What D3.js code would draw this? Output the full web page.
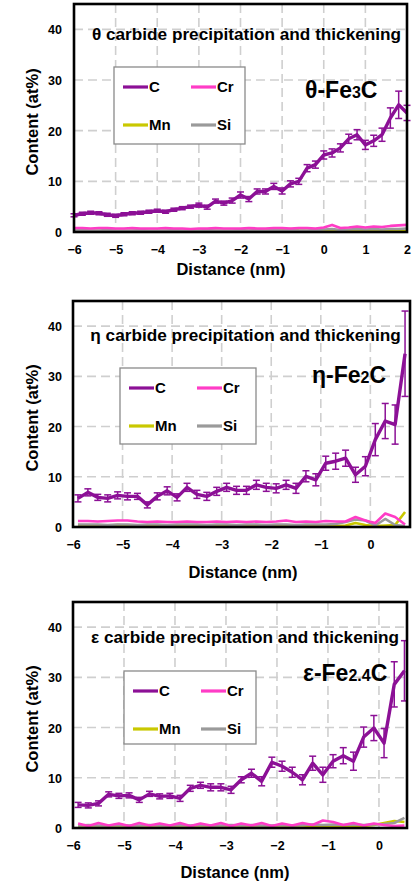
<!DOCTYPE html>
<html><head><meta charset="utf-8">
<script src="https://cdn.jsdelivr.net/npm/d3@7/dist/d3.min.js"></script>
<style>
body{margin:0;background:#fff}
svg{display:block}
text{font-family:"Liberation Sans",Arial,sans-serif;font-weight:bold;fill:#000}
</style>
</head><body>
<svg id="chart" width="418" height="883"></svg>
<script>
// ---------------- DATA ----------------
const seriesNames = ["C", "Cr", "Mn", "Si"];
const yTicks = [0, 10, 20, 30, 40];
const yMax = 45;
const titles = [
  "θ carbide precipitation and thickening",
  "η carbide precipitation and thickening",
  "ε carbide precipitation and thickening"
];
const phaseLabels = [["θ-Fe", "3", "C"], ["η-Fe", "2", "C"], ["ε-Fe", "2.4", "C"]];
const xTitle = "Distance (nm)";
const yTitle = "Content (at%)";
const xTicks1 = [-6, -5, -4, -3, -2, -1, 0, 1, 2];
const xTicks2 = [-6, -5, -4, -3, -2, -1, 0];
const xTicks3 = [-6, -5, -4, -3, -2, -1, 0];

// Panel 1 : θ-Fe3C
const dist1 = [-6.0,-5.8,-5.6,-5.4,-5.2,-5.0,-4.8,-4.6,-4.4,-4.2,-4.0,-3.8,-3.6,-3.4,-3.2,-3.0,-2.8,-2.6,-2.4,-2.2,-2.0,-1.8,-1.6,-1.4,-1.2,-1.0,-0.8,-0.6,-0.4,-0.2,0.0,0.2,0.4,0.6,0.8,1.0,1.2,1.4,1.6,1.8,2.0];
const C1    = [3.3,3.6,3.8,3.7,3.4,3.2,3.5,3.7,3.8,4.0,4.2,4.0,4.4,4.7,5.0,5.3,4.9,6.1,5.7,6.2,7.3,6.5,8.0,8.0,9.0,8.1,9.5,10.0,12.6,13.3,15.2,15.6,16.6,18.4,19.2,17.2,18.0,19.2,22.5,25.1,23.5];
const C1err = [0.3,0.3,0.3,0.3,0.3,0.3,0.3,0.3,0.3,0.3,0.3,0.3,0.3,0.3,0.3,0.4,0.4,0.4,0.4,0.5,0.6,0.5,0.5,0.5,0.6,0.6,0.6,0.6,0.7,0.7,0.8,0.8,0.8,0.9,1.0,0.9,1.1,1.3,2.0,2.7,1.5];
const Cr1   = [0.8,0.8,0.7,0.8,0.8,0.7,0.7,0.8,0.7,0.7,0.7,0.8,0.7,0.7,0.6,0.7,0.7,0.8,0.7,0.7,0.7,0.8,0.7,0.7,0.8,0.8,0.7,0.8,0.8,0.7,0.9,1.4,0.8,0.9,1.1,0.9,1.1,1.0,1.2,1.3,1.4];
const Mn1   = [0.2,0.2,0.2,0.2,0.2,0.2,0.2,0.2,0.2,0.2,0.2,0.2,0.2,0.2,0.2,0.2,0.2,0.2,0.2,0.2,0.2,0.2,0.3,0.3,0.3,0.5,0.6,0.3,0.2,0.2,0.2,0.3,0.2,0.2,0.3,0.2,0.3,0.2,0.2,0.3,0.2];
const Si1   = [0.4,0.4,0.3,0.3,0.4,0.3,0.3,0.3,0.4,0.3,0.3,0.3,0.4,0.3,0.3,0.3,0.4,0.3,0.3,0.3,0.4,0.3,0.4,0.3,0.4,0.3,0.4,0.3,0.3,0.4,0.5,0.6,0.4,0.5,0.6,0.5,0.6,0.5,0.6,0.6,0.7];

// Panel 2 : η-Fe2C
const dist2 = [-5.9,-5.7,-5.5,-5.3,-5.1,-4.9,-4.7,-4.5,-4.3,-4.1,-3.9,-3.7,-3.5,-3.3,-3.1,-2.9,-2.7,-2.5,-2.3,-2.1,-1.9,-1.7,-1.5,-1.3,-1.1,-0.9,-0.7,-0.5,-0.3,-0.1,0.1,0.3,0.5,0.7];
const C2    = [5.7,6.9,5.9,5.7,6.3,6.1,6.1,4.4,6.1,7.2,5.9,7.9,6.5,6.1,7.1,7.9,7.3,7.3,8.4,7.9,7.7,8.4,7.7,10.1,9.4,12.7,13.1,13.7,10.4,12.1,17.4,21.1,20.4,34.5];
const C2err = [0.7,0.7,0.6,0.7,0.7,0.7,0.6,0.6,0.7,0.8,0.7,0.8,0.8,0.8,0.8,0.8,0.8,0.8,0.9,0.8,0.9,0.9,1.0,1.1,1.2,1.4,1.6,1.6,1.5,1.9,3.2,3.5,3.9,8.5];
const Cr2   = [1.2,1.2,1.1,1.2,1.3,1.3,1.1,1.0,1.1,1.0,1.0,1.1,1.0,1.0,1.1,1.0,1.1,1.0,1.1,1.0,1.1,1.3,1.0,1.1,1.0,1.2,1.1,1.1,2.0,1.3,0.8,2.7,2.0,0.5];
const Mn2   = [0.2,0.2,0.2,0.3,0.4,0.3,0.2,0.2,0.2,0.2,0.2,0.2,0.2,0.2,0.2,0.2,0.2,0.2,0.2,0.2,0.3,0.2,0.2,0.2,0.2,0.2,0.2,0.3,0.8,0.4,0.2,0.3,0.4,3.0];
const Si2   = [0.5,0.5,0.5,0.4,0.5,0.5,0.4,0.5,0.5,0.4,0.5,0.5,0.5,0.4,0.5,0.5,0.4,0.5,0.5,0.4,0.5,0.5,0.4,0.5,0.5,0.5,0.6,1.0,1.5,1.3,0.3,1.6,0.4,0.2];

// Panel 3 : ε-Fe2.4C
const dist3 = [-5.9,-5.7,-5.5,-5.3,-5.1,-4.9,-4.7,-4.5,-4.3,-4.1,-3.9,-3.7,-3.5,-3.3,-3.1,-2.9,-2.7,-2.5,-2.3,-2.1,-1.9,-1.7,-1.5,-1.3,-1.1,-0.9,-0.7,-0.5,-0.3,-0.1,0.1,0.3,0.5];
const C3    = [4.6,4.5,4.9,6.7,6.4,6.5,5.6,6.8,6.3,6.4,5.9,7.9,8.5,8.1,8.1,7.6,9.6,10.9,9.3,13.1,12.3,11.1,9.6,12.9,10.6,13.3,14.4,13.3,18.1,19.9,16.9,28.6,31.3];
const C3err = [0.5,0.5,0.5,0.5,0.5,0.5,0.5,0.5,0.5,0.5,0.6,0.6,0.6,0.7,0.7,0.7,0.6,0.8,0.9,1.0,1.0,1.0,1.0,1.4,1.5,1.3,1.6,1.8,2.0,2.5,2.9,4.5,6.0];
const Cr3   = [0.9,0.4,1.0,0.5,0.9,0.4,1.0,0.5,0.9,0.5,1.0,0.4,0.9,0.5,1.0,0.4,0.9,0.5,1.0,0.4,0.9,0.5,1.0,0.6,1.5,1.2,0.6,1.0,0.5,0.9,0.6,0.4,0.5];
const Mn3   = [0.1,0.1,0.1,0.1,0.1,0.1,0.1,0.1,0.1,0.1,0.1,0.1,0.1,0.1,0.1,0.1,0.1,0.1,0.1,0.1,0.1,0.1,0.1,0.2,0.2,0.2,0.2,0.3,0.4,0.6,1.0,1.4,1.2];
const Si3   = [0.5,0.6,0.5,0.5,0.6,0.5,0.5,0.6,0.5,0.5,0.6,0.5,0.6,0.5,0.5,0.6,0.5,0.6,0.5,0.5,0.6,0.5,0.6,0.7,0.6,0.7,0.6,0.7,0.6,0.7,0.8,1.0,2.0];

// ---------------- STYLE / LAYOUT ----------------
const colors = { C: "#8c1096", Cr: "#ff3cc6", Mn: "#c9c800", Si: "#9a9a9a" };
const panels = [
  { left: 74, top: 4, right: 407, bottom: 232, xDomain: [-6, 2], xTicks: xTicks1,
    dist: dist1, C: C1, Cerr: C1err, Cr: Cr1, Mn: Mn1, Si: Si1,
    titleX: 246.5, titleY: 40, phaseX: 305, phaseY: 98, xTitleDy: 43, xTitleX: 231,
    legend: { x: 114, y: 67, w: 131, h: 77 } },
  { left: 73, top: 301, right: 410, bottom: 527, xDomain: [-6, 0.8], xTicks: xTicks2,
    dist: dist2, C: C2, Cerr: C2err, Cr: Cr2, Mn: Mn2, Si: Si2,
    titleX: 245.5, titleY: 341, phaseX: 312, phaseY: 383, xTitleDy: 51, xTitleX: 243,
    legend: { x: 120, y: 368, w: 136, h: 76 } },
  { left: 73, top: 602, right: 407, bottom: 828, xDomain: [-6, 0.55], xTicks: xTicks3,
    dist: dist3, C: C3, Cerr: C3err, Cr: Cr3, Mn: Mn3, Si: Si3,
    titleX: 245, titleY: 643, phaseX: 303, phaseY: 681, xTitleDy: 50, xTitleX: 235,
    legend: { x: 124, y: 671, w: 132, h: 73 } }
];

const svg = d3.select("#chart");

panels.forEach((p, pi) => {
  const g = svg.append("g");
  const x = d3.scaleLinear().domain(p.xDomain).range([p.left, p.right]);
  const y = d3.scaleLinear().domain([0, yMax]).range([p.bottom, p.top]);

  // grid
  g.append("g").selectAll("line").data(yTicks.filter(t => t > 0)).join("line")
    .attr("x1", p.left).attr("x2", p.right)
    .attr("y1", d => y(d)).attr("y2", d => y(d))
    .attr("stroke", "#cfcfcf").attr("stroke-width", 1.6).attr("stroke-dasharray", "9,5");
  g.append("g").selectAll("line").data(p.xTicks.filter(t => t > p.xDomain[0] && t < p.xDomain[1])).join("line")
    .attr("y1", p.top).attr("y2", p.bottom)
    .attr("x1", d => x(d)).attr("x2", d => x(d))
    .attr("stroke", "#cfcfcf").attr("stroke-width", 1.6).attr("stroke-dasharray", "9,5");

  // axes (labels only; ticks hidden)
  const xAxis = d3.axisBottom(x).tickValues(p.xTicks).tickSize(0).tickPadding(0).tickFormat(d3.format("d"));
  const gx = g.append("g").attr("transform", `translate(0,${p.bottom})`).call(xAxis);
  gx.select(".domain").remove();
  gx.selectAll("text").attr("font-size", 12.5).attr("dy", null).attr("y", 22)
    .style("font-family", '"Liberation Sans",Arial,sans-serif').style("font-weight", "bold").attr("fill", "#000");

  const yAxis = d3.axisLeft(y).tickValues(yTicks).tickSize(0).tickPadding(0).tickFormat(d3.format("d"));
  const gy = g.append("g").attr("transform", `translate(62,0)`).call(yAxis);
  gy.select(".domain").remove();
  gy.selectAll("text").attr("font-size", 12.5).attr("x", 0).attr("dy", "0.36em")
    .style("font-family", '"Liberation Sans",Arial,sans-serif').style("font-weight", "bold").attr("fill", "#000");

  // series
  const line = key => d3.line().x((d, i) => x(p.dist[i])).y(d => y(d));
  ["Mn", "Si", "Cr"].forEach(k => {
    g.append("path").datum(p[k]).attr("d", line(k)).attr("fill", "none")
      .attr("stroke", colors[k]).attr("stroke-width", 2.6).attr("stroke-linejoin", "round");
  });
  // error bars for C
  const eb = g.append("g").attr("stroke", colors.C).attr("stroke-width", 1.5);
  p.C.forEach((v, i) => {
    const xx = x(p.dist[i]), e = p.Cerr[i];
    eb.append("line").attr("x1", xx).attr("x2", xx).attr("y1", y(v - e)).attr("y2", y(v + e));
    eb.append("line").attr("x1", xx - 3.5).attr("x2", xx + 3.5).attr("y1", y(v - e)).attr("y2", y(v - e));
    eb.append("line").attr("x1", xx - 3.5).attr("x2", xx + 3.5).attr("y1", y(v + e)).attr("y2", y(v + e));
  });
  g.append("path").datum(p.C).attr("d", line("C")).attr("fill", "none")
    .attr("stroke", colors.C).attr("stroke-width", 3.4).attr("stroke-linejoin", "round");

  // frame
  g.append("rect").attr("x", p.left).attr("y", p.top)
    .attr("width", p.right - p.left).attr("height", p.bottom - p.top)
    .attr("fill", "none").attr("stroke", "#000").attr("stroke-width", 2.6);

  // chart title inside
  g.append("text").attr("x", p.titleX).attr("y", p.titleY).attr("text-anchor", "middle")
    .attr("font-size", 17.2).text(titles[pi]);

  // phase label
  const ph = g.append("text").attr("x", p.phaseX).attr("y", p.phaseY).attr("font-size", 23);
  ph.append("tspan").text(phaseLabels[pi][0]);
  ph.append("tspan").attr("font-size", 16).text(phaseLabels[pi][1]);
  ph.append("tspan").text(phaseLabels[pi][2]);

  // axis titles
  g.append("text").attr("x", p.xTitleX).attr("y", p.bottom + p.xTitleDy).attr("text-anchor", "middle")
    .attr("font-size", 16.5).text(xTitle);
  g.append("text").attr("transform", `translate(38,${(p.top + p.bottom) / 2 + 4}) rotate(-90)`)
    .attr("text-anchor", "middle").attr("font-size", 16.5).text(yTitle);

  // legend
  const L = p.legend;
  const lg = g.append("g").attr("transform", `translate(${L.x},${L.y})`);
  lg.append("rect").attr("width", L.w).attr("height", L.h).attr("fill", "#fff")
    .attr("stroke", "#8a8a8a").attr("stroke-width", 1.3);
  const rowY = [20, 58], colX = [9, 77];
  seriesNames.forEach((name, i) => {
    const cx = colX[i % 2], cy = rowY[Math.floor(i / 2)];
    lg.append("line").attr("x1", cx).attr("x2", cx + 25).attr("y1", cy).attr("y2", cy)
      .attr("stroke", colors[name]).attr("stroke-width", 3.2);
    lg.append("text").attr("x", cx + 26).attr("y", cy).attr("dy", "0.36em")
      .attr("font-size", 15).text(name);
  });
});
</script>
</body></html>
